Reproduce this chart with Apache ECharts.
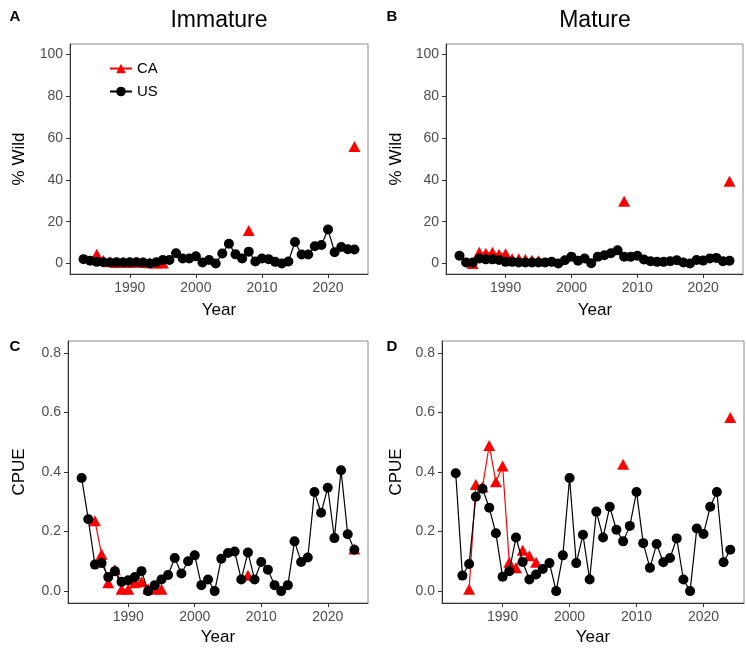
<!DOCTYPE html>
<html>
<head>
<meta charset="utf-8">
<script src="https://cdn.jsdelivr.net/npm/echarts@6/dist/echarts.min.js"></script>
<style>html,body{margin:0;padding:0;background:#fff;}#c{width:746px;height:650px;}</style>
</head>
<body>
<div id="c"></div>
<script>
// ---- data ----
const years = [1983,1984,1985,1986,1987,1988,1989,1990,1991,1992,1993,1994,1995,1996,1997,1998,1999,2000,2001,2002,2003,2004,2005,2006,2007,2008,2009,2010,2011,2012,2013,2014,2015,2016,2017,2018,2019,2020,2021,2022,2023,2024];
const caYears = [1985,1986,1987,1988,1989,1990,1991,1992,1993,1994,1995,2008,2024];

const usImmPct = [2.1,1.3,0.8,0.6,0.5,0.6,0.5,0.6,0.6,0.5,0.0,0.6,1.7,1.7,4.9,2.4,2.4,3.5,0.5,1.7,0.0,4.8,9.5,4.4,2.4,5.7,1.0,2.4,2.1,0.8,0.0,1.0,10.3,4.3,4.3,8.3,8.9,16.3,5.4,7.9,6.8,6.7];
const caImmPct = [4.5,1.5,0.8,0.5,0.6,0.5,0.7,0.5,0.4,0.3,0.3,15.8,56];

const usMatPct = [3.7,0.5,0.5,2.4,2.0,2.0,1.7,0.8,0.8,0.5,0.5,0.5,0.5,0.5,0.8,0.0,1.6,3.3,1.3,2.4,0.2,3.3,4.0,4.9,6.3,3.3,3.3,3.7,1.9,1.1,0.8,0.8,1.1,1.6,0.5,0.0,1.7,1.4,2.4,2.7,1.1,1.3];
const caMatPct = [0,5.4,4.9,5.4,4.5,4.7,2.3,2.3,2.0,1.6,1.3,29.8,39.3];

const usImmCpue = [0.38,0.241,0.089,0.094,0.047,0.067,0.031,0.036,0.047,0.067,0,0.02,0.039,0.054,0.111,0.059,0.1,0.12,0.02,0.039,0,0.109,0.128,0.133,0.039,0.13,0.039,0.098,0.072,0.02,0,0.02,0.167,0.098,0.113,0.333,0.263,0.347,0.178,0.406,0.191,0.139];
const caImmCpue = [0.236,0.124,0.028,0.072,0.006,0.006,0.028,0.031,0.008,0.006,0.006,0.053,0.141];

const usMatCpue = [0.396,0.052,0.091,0.317,0.344,0.28,0.194,0.048,0.067,0.18,0.098,0.039,0.056,0.074,0.094,0,0.12,0.38,0.094,0.189,0.039,0.267,0.18,0.283,0.206,0.167,0.219,0.333,0.161,0.078,0.158,0.097,0.111,0.177,0.039,0,0.21,0.192,0.283,0.333,0.097,0.139];
const caMatCpue = [0.006,0.358,0.35,0.489,0.367,0.42,0.097,0.078,0.137,0.119,0.097,0.426,0.583];

const xTicks = [1990,2000,2010,2020];
const pctTicks = [0,20,40,60,80,100];
const cpueTicks = [0,0.2,0.4,0.6,0.8];

// ---- helpers ----
const FONT = "'Liberation Sans', Arial, Helvetica, sans-serif";
function usData(vals){ return years.map((y,i)=>[y, vals[i]]); }
function caData(vals){
  return years.map(y=>{ const k = caYears.indexOf(y); return k>=0 ? [y, vals[k]] : [y, '-']; });
}
const grids = [
  {left:70, top:44, width:298, height:230},
  {left:446, top:44, width:297, height:230},
  {left:68, top:341, width:300, height:262},
  {left:442, top:341, width:302, height:262}
];
function xAxis(gi){
  return {type:'value', gridIndex:gi, min:1980.95, max:2026.05,
    splitLine:{show:false},
    axisLine:{show:true, onZero:false, lineStyle:{color:'#333', width:1}},
    axisTick:{show:true, length:4, customValues:xTicks, lineStyle:{color:'#333'}},
    axisLabel:{customValues:xTicks, color:'#4d4d4d', fontSize:14, margin:7, fontFamily:FONT, formatter:v=>String(v)}};
}
function yAxis(gi, mn, mx, ticks, fmt){
  return {type:'value', gridIndex:gi, min:mn, max:mx,
    splitLine:{show:false},
    axisLine:{show:true, onZero:false, lineStyle:{color:'#333', width:1}},
    axisTick:{show:true, length:4, customValues:ticks, lineStyle:{color:'#333'}},
    axisLabel:{customValues:ticks, color:'#4d4d4d', fontSize:14, margin:7, fontFamily:FONT, formatter:fmt}};
}
function caSeries(gi, vals){
  return {name:'CA', type:'line', xAxisIndex:gi, yAxisIndex:gi, data:caData(vals),
    connectNulls:false, symbol:'triangle', symbolSize:[12,11], z:2,
    lineStyle:{color:'#ff0000', width:1.2}, itemStyle:{color:'#ff0000'}};
}
function usSeries(gi, vals){
  return {name:'US', type:'line', xAxisIndex:gi, yAxisIndex:gi, data:usData(vals),
    symbol:'circle', symbolSize:10, z:3,
    lineStyle:{color:'#000', width:1.2}, itemStyle:{color:'#000'}};
}
function txt(t, x, y, size, opts){
  return Object.assign({type:'text', x:x, y:y, style:{text:t, fill:'#000', font:(opts&&opts.bold?'bold ':'')+size+'px '+FONT, textAlign:'center', textVerticalAlign:'middle'}}, opts&&opts.rot?{rotation:Math.PI/2}:{});
}
const pctFmt = v => String(v);
const cpueFmt = v => v.toFixed(1);

const option = {
  animation:false,
  backgroundColor:'#fff',
  grid: grids.map(g=>Object.assign({show:true, borderColor:'#8a8a8a', borderWidth:1, backgroundColor:'transparent'}, g)),
  xAxis:[xAxis(0),xAxis(1),xAxis(2),xAxis(3)],
  yAxis:[yAxis(0,-5,105,pctTicks,pctFmt), yAxis(1,-5,105,pctTicks,pctFmt), yAxis(2,-0.04,0.84,cpueTicks,cpueFmt), yAxis(3,-0.04,0.84,cpueTicks,cpueFmt)],
  legend:{data:['CA','US'], orient:'vertical', left:104, top:56, itemWidth:22, itemHeight:12, itemGap:8,
    textStyle:{fontSize:15, color:'#000', fontFamily:FONT}},
  series:[
    caSeries(0, caImmPct), usSeries(0, usImmPct),
    caSeries(1, caMatPct), usSeries(1, usMatPct),
    caSeries(2, caImmCpue), usSeries(2, usImmCpue),
    caSeries(3, caMatCpue), usSeries(3, usMatCpue)
  ],
  graphic:[
    txt('A', 15, 17, 15, {bold:true}),
    txt('B', 392, 17, 15, {bold:true}),
    txt('C', 15, 347, 15, {bold:true}),
    txt('D', 392, 347, 15, {bold:true}),
    txt('Immature', 219, 21, 23),
    txt('Mature', 595, 21, 23),
    txt('Year', 219, 310, 17),
    txt('Year', 595, 310, 17),
    txt('Year', 218, 637, 17),
    txt('Year', 593, 637, 17),
    txt('% Wild', 19, 159, 17, {rot:true}),
    txt('% Wild', 396, 159, 17, {rot:true}),
    txt('CPUE', 19, 472, 17, {rot:true}),
    txt('CPUE', 396, 472, 17, {rot:true})
  ]
};
const chart = echarts.init(document.getElementById('c'), null, {renderer:'canvas'});
chart.setOption(option);
</script>
</body>
</html>
